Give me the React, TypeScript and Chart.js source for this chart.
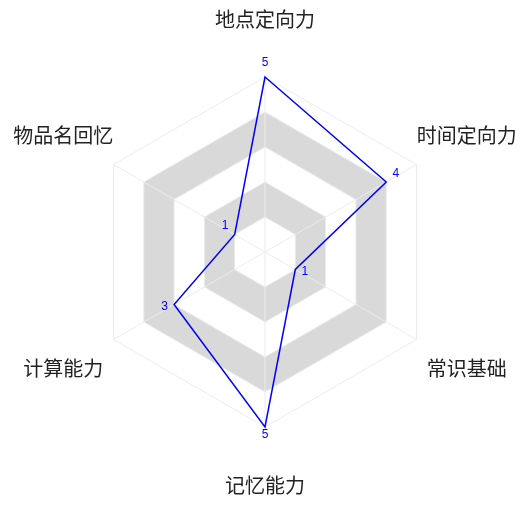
import { useEffect, useRef } from 'react';
import { Chart, registerables } from 'chart.js';

Chart.register(...registerables);

const categories = ['地点定向力', '时间定向力', '常识基础', '记忆能力', '计算能力', '物品名回忆'];
const scores = [5, 4, 1, 5, 3, 1];
const scaleMin = 0;
const scaleMax = 5;
const bandRanges = [
  [1, 2],
  [3, 4],
];

const bandsPlugin = {
  id: 'bands',
  beforeDraw(chart: any) {
    const s = chart.scales.r;
    const ctx = chart.ctx;
    const n = chart.data.labels.length;
    ctx.save();
    ctx.fillStyle = '#d9d9d9';
    for (const [a, b] of bandRanges) {
      ctx.beginPath();
      for (const v of [b, a]) {
        const d = s.getDistanceFromCenterForValue(v);
        for (let i = 0; i < n; i++) {
          const p = s.getPointPosition(i, d);
          if (i === 0) ctx.moveTo(p.x, p.y);
          else ctx.lineTo(p.x, p.y);
        }
        ctx.closePath();
      }
      ctx.fill('evenodd');
    }
    ctx.restore();
  },
};

const namesPlugin = {
  id: 'names',
  afterDraw(chart: any) {
    const s = chart.scales.r;
    const ctx = chart.ctx;
    const labels = chart.data.labels as string[];
    ctx.save();
    ctx.font = '20px "Noto Sans CJK SC", sans-serif';
    ctx.fillStyle = '#222';
    ctx.textAlign = 'center';
    ctx.textBaseline = 'middle';
    labels.forEach((lab, i) => {
      const p = s.getPointPosition(i, s.drawingArea + 58);
      ctx.fillText(lab, p.x, p.y);
    });
    ctx.restore();
  },
};

const valuesPlugin = {
  id: 'values',
  afterDatasetsDraw(chart: any) {
    const s = chart.scales.r;
    const ctx = chart.ctx;
    const meta = chart.getDatasetMeta(0);
    const data = chart.data.datasets[0].data as number[];
    ctx.save();
    ctx.font = '12px "Liberation Sans", Arial, sans-serif';
    ctx.fillStyle = '#0000ff';
    ctx.textAlign = 'center';
    ctx.textBaseline = 'middle';
    meta.data.forEach((el: any, i: number) => {
      const dx = el.x - s.xCenter;
      const dy = el.y - s.yCenter;
      const len = Math.hypot(dx, dy) || 1;
      const x = el.x + (dx / len) * 11;
      const y = el.y + (dy / len) * 11 - 3;
      ctx.fillText(String(data[i]), x, y);
    });
    ctx.restore();
  },
};

export default function App() {
  const ref = useRef<HTMLCanvasElement>(null);
  useEffect(() => {
    if (!ref.current) return;
    const chart = new Chart(ref.current, {
      type: 'radar',
      data: {
        labels: categories,
        datasets: [
          {
            data: scores,
            borderColor: '#0000ff',
            borderWidth: 1.5,
            backgroundColor: 'rgba(0,0,0,0)',
            fill: false,
            pointRadius: 0,
            pointHoverRadius: 0,
          },
        ],
      },
      options: {
        responsive: false,
        animation: false,
        devicePixelRatio: 1,
        layout: { padding: { left: 90, right: 89, top: 77, bottom: 80 } },
        plugins: { legend: { display: false }, tooltip: { enabled: false } },
        elements: { line: { tension: 0 } },
        scales: {
          r: {
            min: scaleMin,
            max: scaleMax,
            ticks: { display: false, stepSize: 1 },
            pointLabels: { display: false },
            grid: { color: '#ececec', lineWidth: 1 },
            angleLines: { color: '#ececec', lineWidth: 1 },
          },
        },
      },
      plugins: [bandsPlugin, namesPlugin, valuesPlugin],
    });
    return () => chart.destroy();
  }, []);
  return (
    <div style={{ position: 'fixed', left: 0, top: 0, width: 529, height: 507, background: '#fff' }}>
      <canvas ref={ref} width={529} height={507} />
    </div>
  );
}
